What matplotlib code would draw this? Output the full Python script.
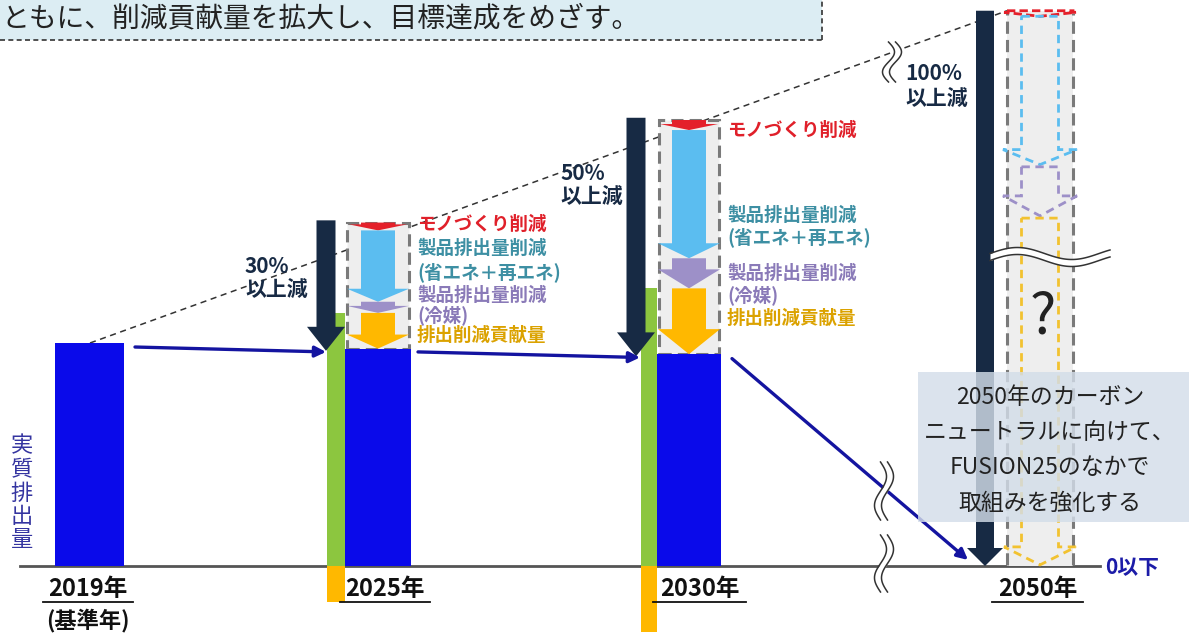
import numpy as np
import matplotlib
matplotlib.use("Agg")
import matplotlib.pyplot as plt
from matplotlib.patches import Polygon, Rectangle

plt.rcParams['font.family'] = ['Noto Sans CJK JP', 'DejaVu Sans']

# ---- data: emission index, 2019 = 100 ----
years = ["2019年", "2025年", "2030年", "2050年"]
base_note = "(基準年)"
targets = ["", "30%", "50%", "100%"]
start_level = [100, 154, 200, 249]     # level before reductions
mono_cut = [0, 3.5, 4.5]              # モノづくり削減
energy_cut = [0, 32, 57.5]            # 製品排出量削減(省エネ+再エネ)
refrig_cut = [0, 5, 13.5]             # 製品排出量削減(冷媒)
contribution = [0, 16, 29.5]          # 排出削減貢献量
future_levels = [249, 246.5, 180, 157, 0]   # 2050 schematic steps
net_2050 = 0

gross = [start_level[i] - mono_cut[i] - energy_cut[i] - refrig_cut[i] for i in range(3)]
net = [gross[i] - contribution[i] for i in range(3)] + [net_2050]

item_labels = [("モノづくり削減",), ("製品排出量削減", "(省エネ＋再エネ)"),
               ("製品排出量削減", "(冷媒)"), ("排出削減貢献量",)]
banner_text = "ともに、削減貢献量を拡大し、目標達成をめざす。"
note_lines = ["2050年のカーボン", "ニュートラルに向けて、", "FUSION25のなかで", "取組みを強化する"]
ylabel_chars = list("実質排出量")

# ---- styling ----
BLUE_BAR = '#0a0aea'
GREEN = '#8cc63f'
ORANGE = '#ffb800'
NAVY = '#172a44'
LINK = '#1414a0'
SKY = '#5bbdf0'
PURPLE = '#9d90c8'
RED = '#e4202a'
GREY = '#7a7a7a'
BOX_BG = '#eeeeee'
TXT_COLORS = ['#e0202a', '#3d8fa3', '#8a7ab8', '#dba200']

PX = 2.23          # pixels per index unit
BASE_PX = 566      # baseline row
W, H = 1189, 635


def Y(p):
    return (BASE_PX - p) / PX


fig = plt.figure(figsize=(W / 100, H / 100), dpi=100)
ax = fig.add_axes([0, 0, 1, 1])
ax.set_xlim(0, W)
ax.set_ylim(Y(H), Y(0))
ax.axis('off')


def block_arrow(x, top, bottom, shaft_w, head_w, head_px, fill=True, **kw):
    hb = bottom + head_px / PX
    pts = [(x - shaft_w / 2, top), (x + shaft_w / 2, top), (x + shaft_w / 2, hb),
           (x + head_w / 2, hb), (x, bottom), (x - head_w / 2, hb), (x - shaft_w / 2, hb)]
    ax.add_patch(Polygon(pts, closed=True, fill=fill, **kw))


def vbreak(xc, p0, p1, amp=6, gap=3.5):
    t = np.linspace(0, 1, 80)
    xs = xc + amp * np.sin(2 * np.pi * t)
    ys = Y(p0 + (p1 - p0) * t)
    ax.fill_betweenx(ys, xs - gap, xs + gap, color='white', zorder=6, lw=0)
    ax.plot(xs - gap, ys, color='#333333', lw=1.1, zorder=6)
    ax.plot(xs + gap, ys, color='#333333', lw=1.1, zorder=6)


def hbreak(x0, x1, pc, amp=6, gap=3.5):
    t = np.linspace(0, 1, 80)
    xs = x0 + (x1 - x0) * t
    ps = pc - amp * np.sin(2 * np.pi * t * 1.1)
    ax.fill_between(xs, Y(ps - gap), Y(ps + gap), color='white', zorder=6, lw=0)
    ax.plot(xs, Y(ps - gap), color='#333333', lw=1.1, zorder=6)
    ax.plot(xs, Y(ps + gap), color='#333333', lw=1.1, zorder=6)


# banner
ax.add_patch(Rectangle((0, Y(40)), 822, Y(0) - Y(40), color='#dcedf3', zorder=1, lw=0))
ax.plot([0, 822], [Y(40), Y(40)], color='#333333', lw=1.2, ls=(0, (3, 2)), zorder=2)
ax.plot([822, 822], [Y(40), Y(0)], color='#333333', lw=1.2, ls=(0, (3, 2)), zorder=2)
ax.text(1, Y(18), banner_text, fontsize=20, color='#222222', va='center', ha='left', zorder=3)

# baseline
ax.plot([20, 1100], [0, 0], color='#555555', lw=2, zorder=2)
ax.text(1105, Y(568), "0以下", fontsize=15, fontweight='bold', color='#1c1ca8',
        va='center', ha='left')

# trend line from the base year to the 2050 starting level
ax.plot([90, 1007], [net[0], start_level[3]], color='#333333', lw=1.1,
        ls=(0, (4, 3)), zorder=1)

# layout of each year group (pixels)
bar_x = [(55, 124), (345, 411), (657, 721)]
green_x = [None, (327, 345), (641, 657)]
dark_x = [None, 326, 636, 985]
label_x = [None, 417, 727]
label_rows = [None,
              [224, 248, 272, 295, 315, 335],
              [130, 215, 237, 273, 295, 318]]
head_px = [None, [6, 13, 7, 14], [6, 15, 19, 25]]

for i in range(3):
    x0, x1 = bar_x[i]
    ax.add_patch(Rectangle((x0, 0), x1 - x0, net[i], color=BLUE_BAR, zorder=3, lw=0))
    if i == 0:
        continue
    g0, g1 = green_x[i]
    ax.add_patch(Rectangle((g0, 0), g1 - g0, gross[i], color=GREEN, zorder=3, lw=0))
    ax.add_patch(Rectangle((g0, -contribution[i]), g1 - g0, contribution[i],
                           color=ORANGE, zorder=3, lw=0))
    # reduction box
    ax.add_patch(Rectangle((x0 + 2, net[i]), x1 - x0 - 4, start_level[i] - net[i],
                           facecolor=BOX_BG, edgecolor=GREY, lw=2.2, ls=(0, (4, 2)), zorder=2))
    xc = (x0 + x1) / 2
    lv = [start_level[i]]
    for c in (mono_cut[i], energy_cut[i], refrig_cut[i], contribution[i]):
        lv.append(lv[-1] - c)
    hp = head_px[i]
    block_arrow(xc, lv[0], lv[1], 34, 58, hp[0], color=RED, lw=0, zorder=4)
    block_arrow(xc, lv[1], lv[2], 34, 62, hp[1], color=SKY, lw=0, zorder=4)
    block_arrow(xc, lv[2], lv[3], 34, 62, hp[2], color=PURPLE, lw=0, zorder=4)
    block_arrow(xc, lv[3], lv[4], 34, 62, hp[3], color=ORANGE, lw=0, zorder=4)
    # dark target arrow
    block_arrow(dark_x[i], start_level[i] + 1, net[i] - 1, 19, 38, 24, color=NAVY, lw=0, zorder=5)
    # item labels
    rows = label_rows[i]
    k = 0
    for j, lines in enumerate(item_labels):
        for line in lines:
            ax.text(label_x[i], Y(rows[k]), line, fontsize=13.3, fontweight='bold',
                    color=TXT_COLORS[j], va='center', ha='left', zorder=8)
            k += 1

# 2050 schematic column
ax.add_patch(Rectangle((1007, 0), 66, future_levels[0], facecolor=BOX_BG, lw=0, zorder=2))
for xe in (1007, 1073):
    ax.plot([xe, xe], [0.5, future_levels[0] - 1], color=GREY, lw=2.2, ls=(0, (4, 2)), zorder=3)
fx = 1040
fl = future_levels
block_arrow(fx, fl[0], fl[1], 66, 72, 4, fill=False, edgecolor=RED, lw=2, ls=(0, (3, 1.5)), zorder=4)
block_arrow(fx, fl[1], fl[2], 37, 74, 15, fill=False, edgecolor=SKY, lw=2, ls=(0, (3, 2)), zorder=4)
block_arrow(fx, fl[2] - 1, fl[3], 37, 74, 20, fill=False, edgecolor=PURPLE, lw=2, ls=(0, (3, 2)), zorder=4)
block_arrow(fx, fl[3] - 1, fl[4] + 0.5, 37, 72, 18, fill=False, edgecolor='#f2c230', lw=2,
            ls=(0, (3, 2)), zorder=4)
block_arrow(dark_x[3], start_level[3], net[3], 18, 36, 18, color=NAVY, lw=0, zorder=5)
ax.text(1043, Y(318), "?", fontsize=40, color='#222222', ha='center', va='center', zorder=5)

# links between net emission levels
links = [((135, net[0] - 1.8), (326, net[1] - 1.5)),
         ((418, net[1] - 1.5), (640, net[2] - 1.5)),
         ((732, net[2] - 2), (968, net[3] + 2.7))]
for (a, b) in links:
    ax.annotate("", xy=b, xytext=a,
                arrowprops=dict(arrowstyle='-|>', color=LINK, lw=2.4, mutation_scale=16,
                                shrinkA=0, shrinkB=0), zorder=5)

# axis breaks
vbreak(892, 42, 82)
vbreak(884, 462, 520)
vbreak(884, 535, 592)
hbreak(990, 1110, 257)

# note box
ax.add_patch(Rectangle((918, Y(522)), 271, Y(372) - Y(522), color='#d3dde9', alpha=0.82,
                       lw=0, zorder=7))
for k, line in enumerate(note_lines):
    ax.text(1050, Y(397 + 35.5 * k), line, fontsize=16.5, color='#222222', ha='center',
            va='center', zorder=8)

# target labels
target_pos = [None, (245, 266, 289), (560, 173, 196), (905, 73, 98)]
for i in range(1, 4):
    x, p1, p2 = target_pos[i]
    ax.text(x, Y(p1), targets[i], fontsize=15, fontweight='bold', color=NAVY, ha='left', va='center', zorder=8)
    ax.text(x, Y(p2), "以上減", fontsize=15, fontweight='bold', color=NAVY, ha='left', va='center', zorder=8)

# year labels with underline
year_pos = [(88, 43, 133), (385, 340, 430), (700, 653, 746), (1038, 992, 1083)]
for (xc, u0, u1), yr in zip(year_pos, years):
    ax.text(xc, Y(589), yr, fontsize=17, fontweight='bold', color='#111111', ha='center',
            va='center', zorder=8)
    ax.plot([u0, u1], [Y(602), Y(602)], color='#111111', lw=1.3, zorder=8)
ax.text(88, Y(620), base_note, fontsize=16, fontweight='bold', color='#111111', ha='center',
        va='center', zorder=8)

# vertical axis title
for k, ch in enumerate(ylabel_chars):
    ax.text(22, Y(446 + 23.5 * k), ch, fontsize=16, color='#3434a0', ha='center', va='center')

fig.savefig("out.png", dpi=100)
